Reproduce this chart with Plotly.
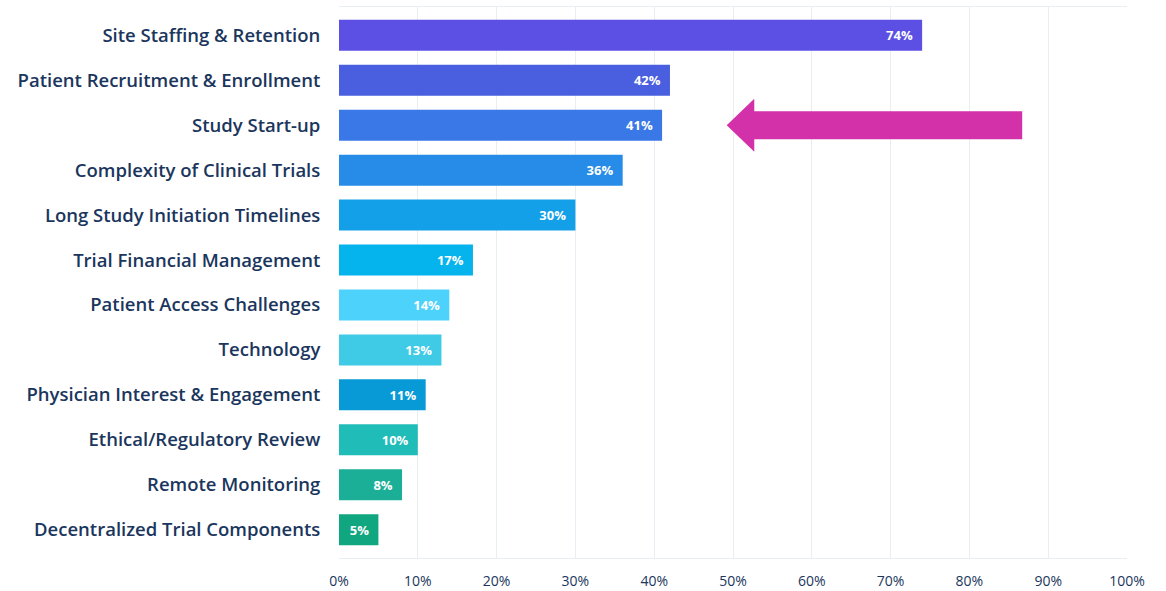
import plotly.graph_objects as go

categories = [
    "Site Staffing & Retention",
    "Patient Recruitment & Enrollment",
    "Study Start-up",
    "Complexity of Clinical Trials",
    "Long Study Initiation Timelines",
    "Trial Financial Management",
    "Patient Access Challenges",
    "Technology",
    "Physician Interest & Engagement",
    "Ethical/Regulatory Review",
    "Remote Monitoring",
    "Decentralized Trial Components",
]
values = [74, 42, 41, 36, 30, 17, 14, 13, 11, 10, 8, 5]
bar_colors = [
    "#5b50e3", "#4a5fe0", "#3b78e7", "#268ce8", "#14a0e8", "#05b4ec",
    "#4dd2fb", "#3fcae6", "#089ad6", "#20bcb8", "#1aaf96", "#10a67f",
]
x_tickvals = list(range(0, 101, 10))
x_ticktext = [f"{v}%" for v in x_tickvals]
highlight = "Study Start-up"

idx = list(range(len(categories)))
navy = "#1b365d"

fig = go.Figure()
fig.add_trace(go.Bar(
    x=values, y=idx, orientation="h",
    marker=dict(color=bar_colors, line=dict(width=0)),
    width=0.69,
    text=[f"{v}%\u2002" for v in values],
    textposition="inside", insidetextanchor="end",
    textfont=dict(color="white", size=13, family="Open Sans", weight="bold"),
    hoverinfo="skip",
))

# highlight arrow pointing at the "Study Start-up" bar
hy = categories.index(highlight)
tip, base, end = 49.2, 52.7, 86.7
sh, hh = 0.31, 0.59
path = (f"M {tip} {hy} L {base} {hy-hh} L {base} {hy-sh} L {end} {hy-sh} "
        f"L {end} {hy+sh} L {base} {hy+sh} L {base} {hy+hh} Z")
fig.add_shape(type="path", path=path, xref="x", yref="y",
              fillcolor="#d331a9", line=dict(width=0), layer="above")

fig.update_layout(
    width=1166, height=591,
    margin=dict(l=339, r=39, t=7, b=33),
    paper_bgcolor="white", plot_bgcolor="white",
    showlegend=False,
    font=dict(family="Open Sans", color=navy),
)
fig.update_xaxes(
    range=[0, 100], tickvals=x_tickvals, ticktext=x_ticktext,
    showgrid=True, gridcolor="#e9eef2", gridwidth=1,
    zeroline=False, automargin=False,
    showline=True, linecolor="#e9eef2", linewidth=1, mirror=True,
    ticks="outside", ticklen=10, tickcolor="rgba(0,0,0,0)",
    tickfont=dict(size=14, color=navy, family="Open Sans"),
)
fig.update_yaxes(
    tickvals=idx, ticktext=categories,
    range=[11.63, -0.63], automargin=False,
    showgrid=False, zeroline=False, showline=False,
    ticks="outside", ticklen=14, tickcolor="rgba(0,0,0,0)",
    tickfont=dict(size=18.5, color=navy, family="Open Sans", weight=600),
)

fig.write_html("out.html")
